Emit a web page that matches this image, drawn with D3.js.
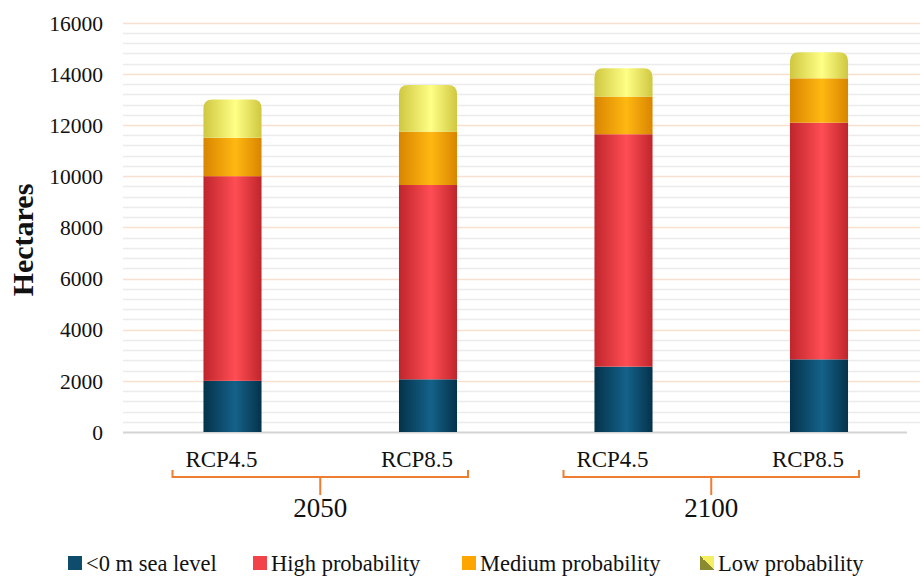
<!DOCTYPE html>
<html>
<head>
<meta charset="utf-8">
<script src="https://cdn.jsdelivr.net/npm/d3@7"></script>
<style>
  html, body { margin: 0; padding: 0; background: #fff; }
  svg { display: block; }
  svg text { font-family: "Liberation Serif", "Times New Roman", Times, "DejaVu Serif", serif; }
</style>
</head>
<body>
<svg id="chart" width="920" height="576"></svg>
<script>
// Stacked land areas (hectares) by scenario
const groups = ["2050", "2050", "2100", "2100"];
const scenarios = ["RCP4.5", "RCP8.5", "RCP4.5", "RCP8.5"];
const belowSeaLevel = [2000, 2060, 2555, 2840];
const highProb = [8000, 7595, 9085, 9250];
const mediumProb = [1500, 2085, 1470, 1735];
const lowProb = [1500, 1825, 1110, 1015];
const yTicks = [0, 2000, 4000, 6000, 8000, 10000, 12000, 14000, 16000];
const seriesNames = ["<0 m sea level", "High probability", "Medium probability", "Low probability"];

const seriesValues = [belowSeaLevel, highProb, mediumProb, lowProb];
const palette = [
  { edge: "#05324a", mid: "#14628a", key: "#0e4c6c" },
  { edge: "#c0252c", mid: "#ff4d54", key: "#f2424a" },
  { edge: "#d98500", mid: "#ffb812", key: "#ffa500" },
  { edge: "#cfc740", mid: "#ffff86", key: "#e8e060" }
];

const svg = d3.select("#chart");
const plot = { left: 123, right: 920, top: 22, bottom: 432 };

const idx = d3.range(scenarios.length);
const x = d3.scaleBand().domain(idx).range([134.75, 916.75]).paddingInner(0.703).paddingOuter(0.3515);
const y = d3.scaleLinear().domain([0, 16000]).range([plot.bottom, plot.top + 0.7]);

// gradients giving each bar a cylindrical shading
const defs = svg.append("defs");
palette.forEach((p, i) => {
  const g = defs.append("linearGradient").attr("id", "grad" + i)
    .attr("x1", "0%").attr("x2", "100%").attr("y1", "0%").attr("y2", "0%");
  g.append("stop").attr("offset", "0%").attr("stop-color", p.edge);
  g.append("stop").attr("offset", "55%").attr("stop-color", p.mid);
  g.append("stop").attr("offset", "100%").attr("stop-color", p.edge);
});
const lowKey = defs.append("linearGradient").attr("id", "lowKey")
  .attr("x1", "0%").attr("y1", "100%").attr("x2", "100%").attr("y2", "0%");
lowKey.append("stop").attr("offset", "50%").attr("stop-color", "#8a8a30");
lowKey.append("stop").attr("offset", "50%").attr("stop-color", "#f4ee60");

// minor and major gridlines
const minor = d3.range(0, 16001, 400).filter(v => v % 2000 !== 0);
svg.append("g").selectAll("line").data(minor).join("line")
  .attr("x1", plot.left).attr("x2", plot.right)
  .attr("y1", d => Math.round(y(d)) + 0.5).attr("y2", d => Math.round(y(d)) + 0.5)
  .attr("stroke", "#ebebeb").attr("stroke-width", 1.6);
svg.append("g").selectAll("line").data(yTicks.filter(v => v > 0)).join("line")
  .attr("x1", plot.left).attr("x2", plot.right)
  .attr("y1", d => Math.round(y(d)) + 0.5).attr("y2", d => Math.round(y(d)) + 0.5)
  .attr("stroke", "#f9e0ce").attr("stroke-width", 1.6);

// baseline
svg.append("line").attr("x1", plot.left).attr("x2", 907)
  .attr("y1", y(0) + 0.5).attr("y2", y(0) + 0.5)
  .attr("stroke", "#d4d4d4").attr("stroke-width", 2);

// y axis labels
const yAxis = d3.axisLeft(y).tickValues(yTicks).tickSize(0).tickPadding(0).tickFormat(d3.format("d"));
const yg = svg.append("g").attr("transform", "translate(103,0)").call(yAxis);
yg.attr("font-family", null).attr("font-size", null);
yg.select(".domain").remove();
yg.selectAll("text").attr("font-size", 21.5).attr("fill", "#111").attr("dy", "0.34em");

// y title
svg.append("text").attr("transform", "translate(33,240) rotate(-90)")
  .attr("text-anchor", "middle").attr("font-size", 30).attr("font-weight", "bold")
  .attr("fill", "#111").text("Hectares");

// stacked bars
const bw = x.bandwidth();
const r = 9;
idx.forEach(i => {
  let base = 0;
  seriesValues.forEach((vals, s) => {
    const y0 = y(base), y1 = y(base + vals[i]);
    const x0 = x(i);
    const last = s === seriesValues.length - 1;
    if (last) {
      const p = d3.path();
      p.moveTo(x0, y0);
      p.lineTo(x0, y1 + r);
      p.quadraticCurveTo(x0, y1, x0 + r, y1);
      p.lineTo(x0 + bw - r, y1);
      p.quadraticCurveTo(x0 + bw, y1, x0 + bw, y1 + r);
      p.lineTo(x0 + bw, y0);
      p.closePath();
      svg.append("path").attr("d", p.toString()).attr("fill", "url(#grad" + s + ")");
    } else {
      svg.append("rect").attr("x", x0).attr("y", y1).attr("width", bw)
        .attr("height", y0 - y1).attr("fill", "url(#grad" + s + ")");
    }
    base += vals[i];
  });
});

// scenario labels
svg.append("g").selectAll("text").data(idx).join("text")
  .attr("x", i => x(i) + bw / 2 - 11).attr("y", 467)
  .attr("text-anchor", "middle").attr("font-size", 23).attr("fill", "#111")
  .text(i => scenarios[i]);

// year brackets
const years = Array.from(new Set(groups));
const bracketColor = "#ed7d31";
years.forEach(yr => {
  const members = idx.filter(i => groups[i] === yr);
  const c1 = x(members[0]) + bw / 2, c2 = x(members[members.length - 1]) + bw / 2;
  const left = c1 - 60, right = c2 + 40, mid = (left + right) / 2;
  svg.append("path")
    .attr("d", `M${left},470 L${left},477 L${right},477 L${right},470 M${mid},477 L${mid},495`)
    .attr("fill", "none").attr("stroke", bracketColor).attr("stroke-width", 2);
  svg.append("text").attr("x", mid).attr("y", 517).attr("text-anchor", "middle")
    .attr("font-size", 27).attr("fill", "#111").text(yr);
});

// legend
const legendX = [68, 253, 462, 700];
const lg = svg.append("g");
seriesNames.forEach((name, s) => {
  const g = lg.append("g").attr("transform", `translate(${legendX[s]},563)`);
  g.append("rect").attr("x", 0).attr("y", -7).attr("width", 14).attr("height", 14)
    .attr("fill", s === 3 ? "url(#lowKey)" : palette[s].key);
  g.append("text").attr("x", 18).attr("y", 7.5)
    .attr("font-size", 22.5).attr("fill", "#111").text(name);
});
</script>
</body>
</html>
